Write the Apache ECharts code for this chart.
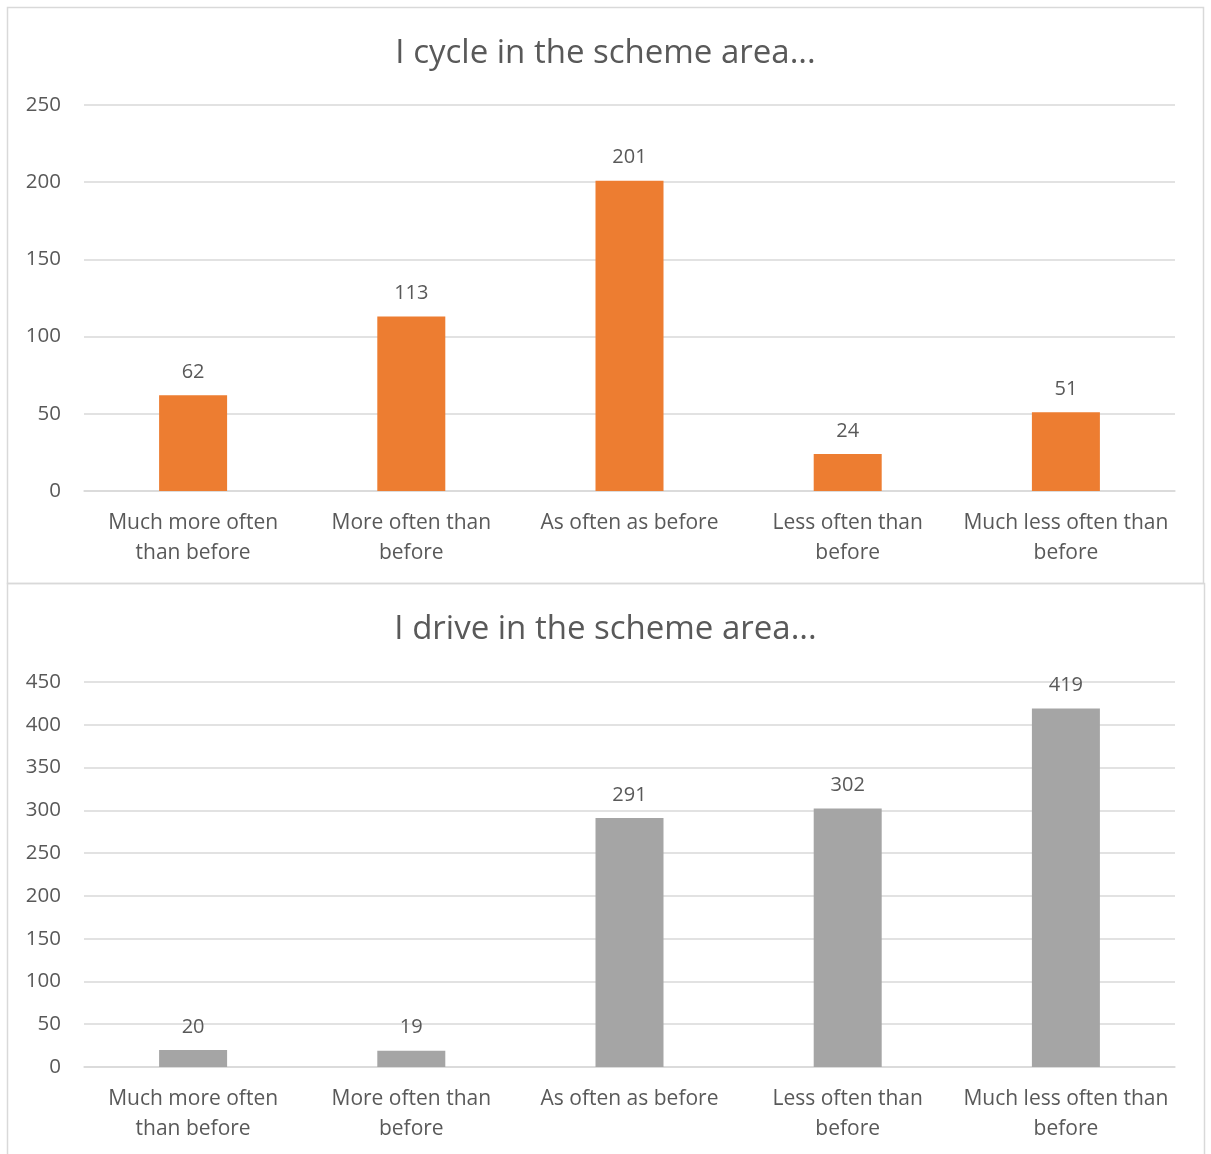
<!DOCTYPE html>
<html>
<head>
<meta charset="utf-8">
<script src="https://cdn.jsdelivr.net/npm/echarts@6/dist/echarts.min.js"></script>
<style>
  html, body { margin: 0; padding: 0; background: #fff; }
  #chart { width: 1211px; height: 1154px; }
</style>
</head>
<body>
<div id="chart"></div>
<script>
// Survey answers: how often people cycle / drive in the scheme area
const categories = [
  'Much more often\nthan before',
  'More often than\nbefore',
  'As often as before',
  'Less often than\nbefore',
  'Much less often than\nbefore'
];
const cycleTitle = 'I cycle in the scheme area...';
const driveTitle = 'I drive in the scheme area...';
const cycleValues = [62, 113, 201, 24, 51];
const driveValues = [20, 19, 291, 302, 419];
const cycleAxis = { min: 0, max: 250, interval: 50 };
const driveAxis = { min: 0, max: 450, interval: 50 };

const FONT = '"Open Sans", "Noto Sans", sans-serif';
const TEXT = '#595959';
const GRID_LINE = '#d9d9d9';

function xAxis(gridIndex) {
  return {
    type: 'category',
    gridIndex,
    data: categories,
    axisLine: { show: true, lineStyle: { color: GRID_LINE, width: 1.5 } },
    axisTick: { show: false },
    axisLabel: {
      color: TEXT, fontFamily: FONT, fontSize: 21, lineHeight: 30,
      margin: 17, interval: 0
    }
  };
}

function yAxis(gridIndex, range) {
  return {
    type: 'value',
    gridIndex,
    min: range.min, max: range.max, interval: range.interval,
    axisLine: { show: false },
    axisTick: { show: false },
    axisLabel: { color: TEXT, fontFamily: FONT, fontSize: 20.5, margin: 23 },
    splitLine: { lineStyle: { color: GRID_LINE, width: 1.5 } }
  };
}

function barSeries(index, values, color) {
  return {
    type: 'bar',
    xAxisIndex: index,
    yAxisIndex: index,
    data: values,
    barWidth: 68,
    itemStyle: { color },
    label: {
      show: true, position: 'top', distance: 13,
      color: TEXT, fontFamily: FONT, fontSize: 20
    },
    silent: true
  };
}

const chart = echarts.init(document.getElementById('chart'), null, { renderer: 'canvas' });
chart.setOption({
  backgroundColor: '#ffffff',
  animation: false,
  title: [
    {
      text: cycleTitle, left: 'center', top: 32,
      textStyle: { color: TEXT, fontFamily: FONT, fontSize: 33, fontWeight: 'normal' }
    },
    {
      text: driveTitle, left: 'center', top: 608,
      textStyle: { color: TEXT, fontFamily: FONT, fontSize: 33, fontWeight: 'normal' }
    }
  ],
  graphic: [
    {
      type: 'rect', silent: true, z: -1,
      shape: { x: 7.5, y: 7.5, width: 1196, height: 576 },
      style: { fill: 'none', stroke: '#d9d9d9', lineWidth: 1.5 }
    },
    {
      type: 'rect', silent: true, z: -1,
      shape: { x: 7.5, y: 583.5, width: 1197, height: 590 },
      style: { fill: 'none', stroke: '#d9d9d9', lineWidth: 1.5 }
    }
  ],
  grid: [
    { left: 84, right: 36, top: 105, height: 386, containLabel: false },
    { left: 84, right: 36, top: 682, height: 385, containLabel: false }
  ],
  xAxis: [xAxis(0), xAxis(1)],
  yAxis: [yAxis(0, cycleAxis), yAxis(1, driveAxis)],
  series: [
    barSeries(0, cycleValues, '#ED7D31'),
    barSeries(1, driveValues, '#A5A5A5')
  ]
});
</script>
</body>
</html>
